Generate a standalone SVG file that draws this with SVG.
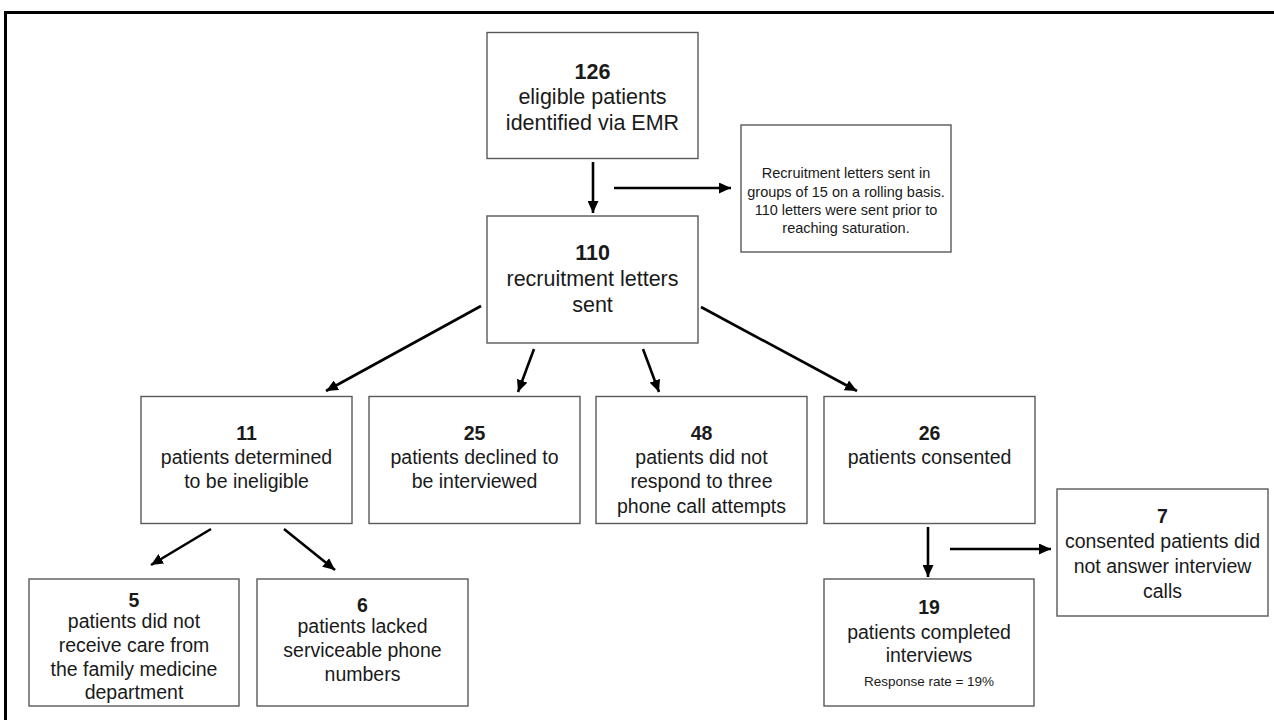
<svg xmlns="http://www.w3.org/2000/svg" width="1274" height="720" viewBox="0 0 1274 720">
<defs>
<style>
.box{fill:#fff;stroke:#595959;stroke-width:1.4}
.t{font-family:"Liberation Sans",Arial,sans-serif;fill:#1a1a1a;text-anchor:middle;font-size:19.5px}
.big{font-size:21.5px}
.b{font-weight:bold}
.note{font-size:14.5px}
.small{font-size:13.5px}
.c{stroke:#000;stroke-width:2.6;fill:none;marker-end:url(#ah)}
</style>
<marker id="ah" markerUnits="userSpaceOnUse" markerWidth="13" markerHeight="11" refX="12" refY="5.5" orient="auto">
<path d="M0,0 L12,5.5 L0,11 z" fill="#000"/>
</marker>
</defs>
<rect width="1274" height="720" fill="#fff"/>
<path d="M5.5,720 V12.5 H1274" fill="none" stroke="#000" stroke-width="3"/>

<g id="connectors">
<line class="c" x1="593" y1="162" x2="593" y2="213"/>
<line class="c" x1="614" y1="188" x2="731" y2="188"/>
<line class="c" x1="481" y1="306" x2="326" y2="391"/>
<line class="c" x1="534" y1="349" x2="518" y2="392"/>
<line class="c" x1="643" y1="349" x2="659" y2="392"/>
<line class="c" x1="701" y1="307" x2="857" y2="391"/>
<line class="c" x1="211" y1="529" x2="151" y2="565"/>
<line class="c" x1="284" y1="529" x2="335" y2="570"/>
<line class="c" x1="928" y1="527" x2="928" y2="577"/>
<line class="c" x1="950" y1="549" x2="1051" y2="549"/>
</g>

<g id="n126">
<rect class="box" x="487" y="32.5" width="211" height="126"/>
<text class="t big b" x="592.5" y="79">126</text>
<text class="t big" x="592.5" y="104">eligible patients</text>
<text class="t big" x="592.5" y="130">identified via EMR</text>
</g>

<g id="note">
<rect class="box" x="741" y="125" width="210" height="127"/>
<text class="t note" x="846" y="178">Recruitment letters sent in</text>
<text class="t note" x="846" y="197">groups of 15 on a rolling basis.</text>
<text class="t note" x="846" y="215">110 letters were sent prior to</text>
<text class="t note" x="846" y="233">reaching saturation.</text>
</g>

<g id="n110">
<rect class="box" x="487" y="216" width="211" height="127"/>
<text class="t big b" x="592.5" y="260">110</text>
<text class="t big" x="592.5" y="286">recruitment letters</text>
<text class="t big" x="592.5" y="312">sent</text>
</g>

<g id="n11">
<rect class="box" x="141" y="396.5" width="211" height="127"/>
<text class="t b" x="246.5" y="440">11</text>
<text class="t" x="246.5" y="464">patients determined</text>
<text class="t" x="246.5" y="488">to be ineligible</text>
</g>

<g id="n25">
<rect class="box" x="369" y="396.5" width="211" height="127"/>
<text class="t b" x="474.5" y="440">25</text>
<text class="t" x="474.5" y="464">patients declined to</text>
<text class="t" x="474.5" y="488">be interviewed</text>
</g>

<g id="n48">
<rect class="box" x="596" y="396.5" width="211" height="127"/>
<text class="t b" x="701.5" y="440">48</text>
<text class="t" x="701.5" y="464">patients did not</text>
<text class="t" x="701.5" y="488">respond to three</text>
<text class="t" x="701.5" y="513">phone call attempts</text>
</g>

<g id="n26">
<rect class="box" x="824" y="396.5" width="211" height="127"/>
<text class="t b" x="929.5" y="440">26</text>
<text class="t" x="929.5" y="464">patients consented</text>
</g>

<g id="n5">
<rect class="box" x="29" y="579" width="210" height="127"/>
<text class="t b" x="134" y="607">5</text>
<text class="t" x="134" y="628">patients did not</text>
<text class="t" x="134" y="652">receive care from</text>
<text class="t" x="134" y="676">the family medicine</text>
<text class="t" x="134" y="699">department</text>
</g>

<g id="n6">
<rect class="box" x="257" y="579" width="211" height="127"/>
<text class="t b" x="362.5" y="612">6</text>
<text class="t" x="362.5" y="633">patients lacked</text>
<text class="t" x="362.5" y="657">serviceable phone</text>
<text class="t" x="362.5" y="681">numbers</text>
</g>

<g id="n19">
<rect class="box" x="824" y="579" width="210" height="127"/>
<text class="t b" x="929" y="614">19</text>
<text class="t" x="929" y="639">patients completed</text>
<text class="t" x="929" y="662">interviews</text>
<text class="t small" x="929" y="686">Response rate = 19%</text>
</g>

<g id="n7">
<rect class="box" x="1057" y="489" width="211" height="127"/>
<text class="t b" x="1162.5" y="523">7</text>
<text class="t" x="1162.5" y="548">consented patients did</text>
<text class="t" x="1162.5" y="573">not answer interview</text>
<text class="t" x="1162.5" y="598">calls</text>
</g>
</svg>
